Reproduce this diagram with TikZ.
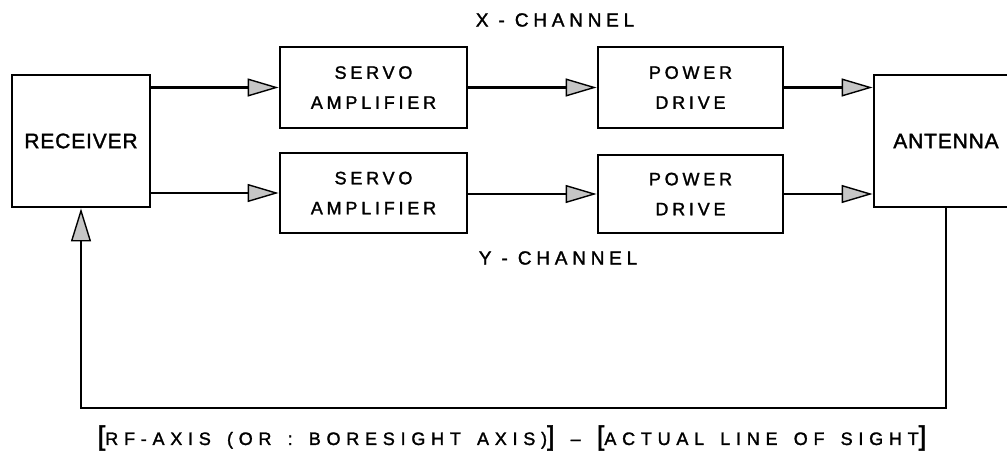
\documentclass[tikz,border=0pt]{standalone}
\usepackage{fontspec}
\setmainfont{Liberation Sans}
\newfontfamily\boxfnt[LetterSpace=21,FakeBold=1.6]{Liberation Sans}
\newfontfamily\bigfnt[LetterSpace=4,FakeBold=1.6]{Liberation Sans}
\newfontfamily\chfnt[LetterSpace=25,FakeBold=1.6]{Liberation Sans}
\newfontfamily\lowfnt[LetterSpace=32,WordSpace=1.5,FakeBold=1.6]{Liberation Sans}
\usetikzlibrary{arrows.meta,calc}
\tikzset{
  blk/.style={draw, line width=2.8pt, inner sep=0pt, align=center},
  smallblk/.style={blk, font=\boxfnt\fontsize{18}{30}\selectfont},
  bigblk/.style={blk, font=\bigfnt\fontsize{21}{25}\selectfont},
  lbl/.style={inner sep=0pt},
  conn/.style={line width=2.4pt, -{Triangle[length=31pt,width=18pt,fill=gray!45,line width=1.4pt]}},
}
\begin{document}
\begin{tikzpicture}[x=1pt,y=-1pt]
\useasboundingbox (0,0) rectangle (1007,455);
\clip (0,0) rectangle (1007,455);
\node[bigblk, minimum width=138pt, minimum height=132pt] (rec) at (81,141) {RECEIVER};
\node[smallblk, minimum width=187pt, minimum height=81pt] (sa1) at (373.5,87.5) {SERVO\\AMPLIFIER};
\node[smallblk, minimum width=187pt, minimum height=80pt] (sa2) at (373.5,193) {SERVO\\AMPLIFIER};
\node[smallblk, minimum width=185pt, minimum height=81pt] (pd1) at (690.5,87.5) {POWER\\DRIVE};
\node[smallblk, minimum width=185pt, minimum height=78pt] (pd2) at (690.5,194) {POWER\\DRIVE};
\node[bigblk, minimum width=144pt, minimum height=132pt] (ant) at (946,141) {ANTENNA};
\node[lbl, font=\chfnt\fontsize{19}{19}\selectfont] (xc) at (555,20) {X - CHANNEL};
\node[lbl, font=\chfnt\fontsize{19}{19}\selectfont] (yc) at (558,258) {Y - CHANNEL};
\node[lbl, font=\lowfnt\fontsize{18}{18}\selectfont] (axis) at (512,438)
  {{\fontsize{27}{27}\selectfont[}RF-AXIS (OR : BORESIGHT AXIS){\fontsize{27}{27}\selectfont]} – {\fontsize{27}{27}\selectfont[}ACTUAL LINE OF SIGHT{\fontsize{27}{27}\selectfont]}};
\coordinate (fb) at (500,408);
\draw[conn] (rec.east |- sa1.west) -- (sa1.west);
\draw[conn] (rec.east |- sa2.west) -- (sa2.west);
\draw[conn] (sa1.east) -- (pd1.west);
\draw[conn] (sa2.east |- pd2.west) -- (pd2.west);
\draw[conn] (pd1.east) -- (ant.west |- pd1.east);
\draw[conn] (pd2.east) -- (ant.west |- pd2.east);
\draw[conn, -{Triangle[length=33pt,width=20pt,fill=gray!45,line width=1.4pt]}] (ant.south) |- (fb) -| (rec.south);
\end{tikzpicture}
\end{document}
